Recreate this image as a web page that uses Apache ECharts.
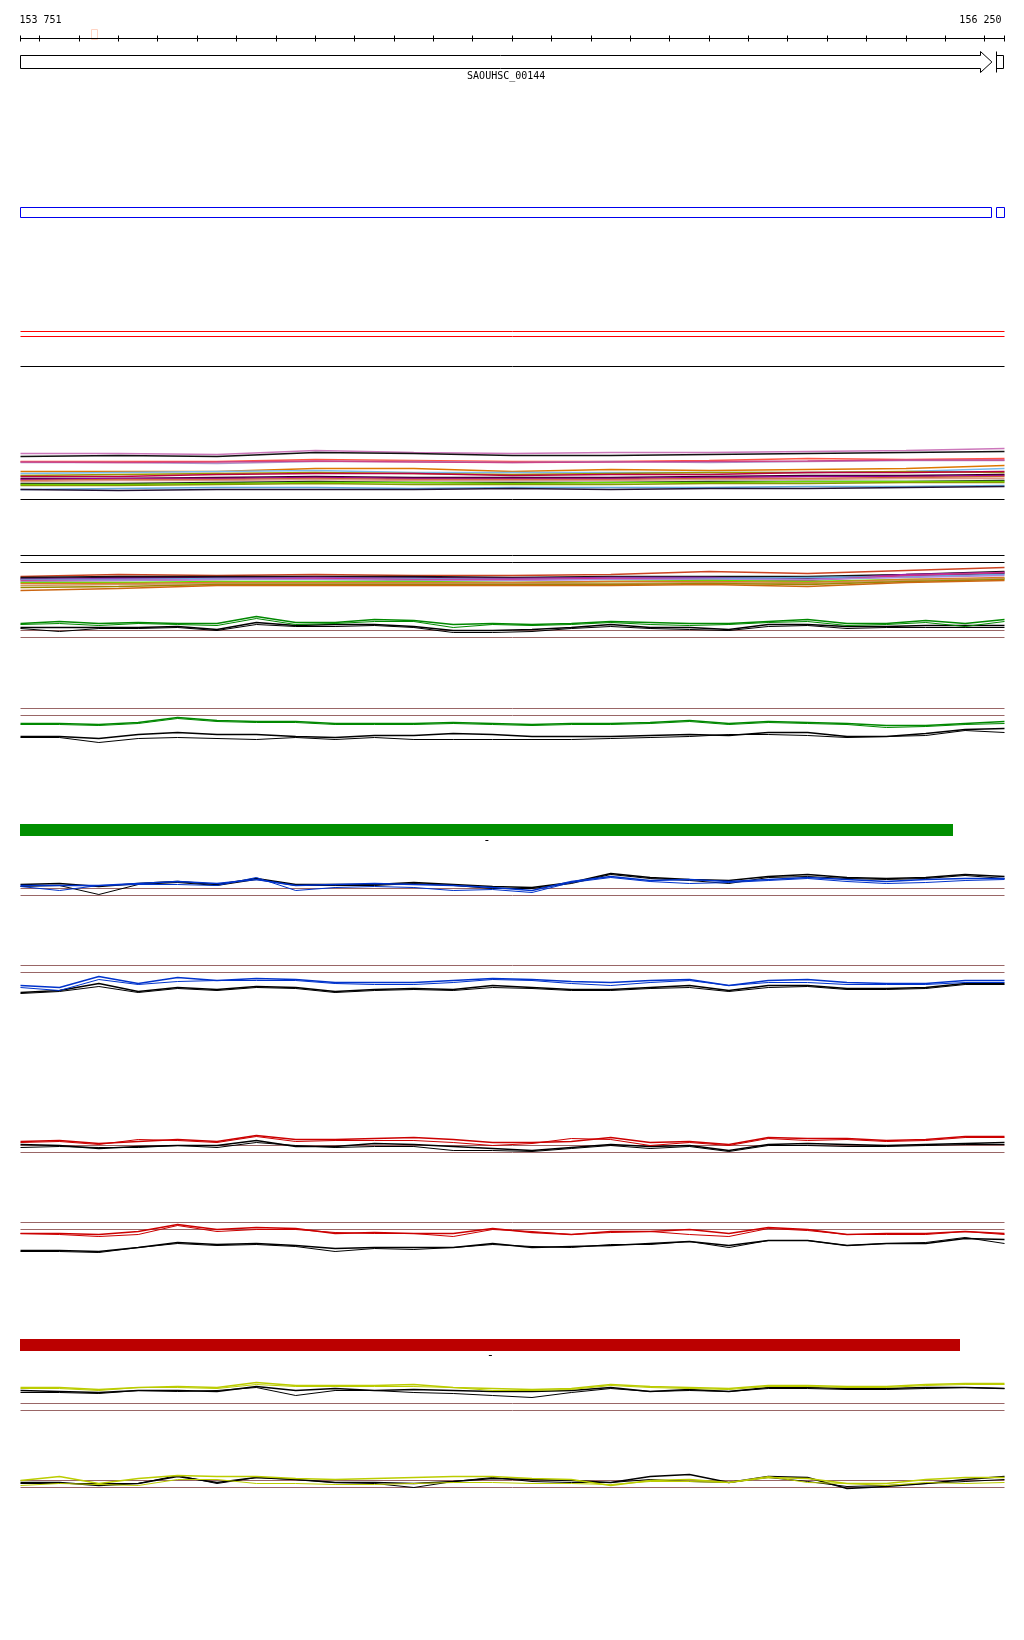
<!DOCTYPE html>
<html>
<head>
<meta charset="utf-8">
<script src="https://cdn.jsdelivr.net/npm/echarts@6/dist/echarts.min.js"></script>
<style>
  html, body { margin: 0; padding: 0; background: #fff; }
  #chart { width: 1024px; height: 1640px; }
</style>
</head>
<body>
<div id="chart"></div>
<script>
// window shown (bp)
const startPos = 153751;
const endPos = 156250;
const rulerLabels = ['153 751', '156 250'];
const rulerTicks = [153751, 153800, 153900, 154000, 154100, 154200, 154300, 154400, 154500, 154600,
  154700, 154800, 154900, 155000, 155100, 155200, 155300, 155400, 155500, 155600,
  155700, 155800, 155900, 156000, 156100, 156200, 156250];
const markerRange = [153929, 153944];

// features
const geneName = 'SAOUHSC_00144';
const gene = [153751, 156218];
const nextGene = [156229, 156250];
const cdsBlocks = [[153751, 156218], [156229, 156250]];
const hitRed = [3.85, 3.35];
const hitBlack = [0.35];
const greenBar = [153751, 156120];
const redBar = [153751, 156138];

// sample positions
const pos = [153751, 153850, 153950, 154050, 154150, 154250, 154350, 154450, 154550, 154650,
  154750, 154850, 154950, 155050, 155150, 155250, 155350, 155450, 155550, 155650,
  155750, 155850, 155950, 156050, 156150, 156250];
const posCoarse = [153751, 154000, 154250, 154500, 154750, 155000, 155250, 155500, 155750, 156000, 156250];

// multi-colour track 1
const m1Colors = ['#cc77bb', '#111111', '#ff5544', '#aa99cc', '#cc4488', '#dd7700', '#77bbee', '#999900', '#bb0044',
  '#330022', '#990099', '#cc6633', '#dd9988', '#222222', '#66dd00', '#889900', '#66aadd', '#221133'];
const m1Values = [
  [4.6, 4.6, 4.5, 4.9, 4.7, 4.6, 4.7, 4.7, 4.8, 4.9, 5.1],
  [4.3, 4.4, 4.3, 4.7, 4.6, 4.4, 4.4, 4.5, 4.6, 4.7, 4.8],
  [3.8, 3.8, 3.8, 4.0, 3.9, 3.8, 3.8, 3.9, 4.1, 4.0, 4.1],
  [3.7, 3.7, 3.6, 3.8, 3.8, 3.7, 3.8, 3.7, 3.8, 3.9, 3.9],
  [3.75, 3.7, 3.75, 3.85, 3.75, 3.7, 3.75, 3.8, 3.85, 3.95, 3.95],
  [2.8, 2.8, 2.8, 3.1, 3.1, 2.8, 3.0, 2.9, 3.0, 3.1, 3.4],
  [2.6, 2.7, 2.8, 2.9, 2.7, 2.7, 2.7, 2.7, 2.7, 2.8, 3.1],
  [2.4, 2.5, 2.6, 2.7, 2.6, 2.5, 2.6, 2.7, 2.7, 2.8, 2.7],
  [2.3, 2.3, 2.5, 2.6, 2.6, 2.4, 2.5, 2.5, 2.7, 2.7, 2.8],
  [2.1, 2.1, 2.2, 2.3, 2.2, 2.2, 2.2, 2.3, 2.4, 2.4, 2.5],
  [2.0, 2.1, 2.1, 2.2, 2.1, 2.1, 2.1, 2.2, 2.3, 2.3, 2.4],
  [1.9, 2.0, 2.0, 2.1, 2.0, 2.0, 2.0, 2.1, 2.1, 2.2, 2.3],
  [1.8, 1.9, 1.9, 2.0, 1.9, 1.9, 1.9, 2.0, 2.0, 2.1, 2.1],
  [1.6, 1.6, 1.7, 1.8, 1.7, 1.7, 1.7, 1.8, 1.8, 1.8, 1.9],
  [1.5, 1.5, 1.6, 1.7, 1.7, 1.6, 1.7, 1.7, 1.8, 1.8, 1.8],
  [1.4, 1.4, 1.5, 1.6, 1.5, 1.5, 1.5, 1.6, 1.6, 1.7, 1.7],
  [1.0, 1.1, 1.2, 1.2, 1.1, 1.2, 1.2, 1.2, 1.3, 1.3, 1.4],
  [1.0, 0.9, 1.0, 1.0, 1.0, 1.1, 1.0, 1.1, 1.1, 1.2, 1.3]
];

// multi-colour track 2
const m2Frame = [4.5, 3.8];
const m2Colors = ['#cc4422', '#111111', '#330033', '#9922aa', '#66aadd', '#cc3388', '#aa88dd', '#55ee00',
  '#dd7722', '#cc9966', '#998800', '#cc6611'];
const m2Values = [
  [2.4, 2.6, 2.5, 2.6, 2.5, 2.5, 2.6, 2.9, 2.7, 3.0, 3.3],
  [2.3, 2.4, 2.4, 2.4, 2.4, 2.3, 2.4, 2.4, 2.4, 2.6, 2.9],
  [2.2, 2.3, 2.3, 2.3, 2.3, 2.2, 2.3, 2.3, 2.2, 2.5, 2.7],
  [2.1, 2.2, 2.2, 2.3, 2.2, 2.2, 2.3, 2.3, 2.1, 2.6, 2.8],
  [2.1, 2.1, 2.2, 2.2, 2.2, 2.1, 2.2, 2.2, 2.3, 2.4, 2.6],
  [2.0, 2.0, 2.1, 2.2, 2.1, 2.1, 2.2, 2.1, 2.0, 2.5, 2.8],
  [1.9, 2.0, 2.1, 2.1, 2.0, 2.0, 2.1, 2.1, 2.1, 2.3, 2.5],
  [1.8, 1.8, 1.9, 1.9, 1.9, 1.8, 1.9, 2.0, 1.9, 2.1, 2.2],
  [1.7, 1.7, 1.8, 1.8, 1.8, 1.8, 1.9, 1.9, 1.8, 2.1, 2.3],
  [1.5, 1.6, 1.7, 1.7, 1.7, 1.7, 1.7, 1.8, 1.7, 2.0, 2.2],
  [1.3, 1.4, 1.6, 1.6, 1.6, 1.6, 1.6, 1.7, 1.6, 1.9, 2.1],
  [1.0, 1.2, 1.5, 1.5, 1.5, 1.5, 1.5, 1.6, 1.4, 1.8, 2.0]
];

// green tracks
const g1Cut = [1.0, 0.3];
const g1Green1 = [1.7, 1.9, 1.7, 1.8, 1.7, 1.7, 2.4, 1.8, 1.8, 2.1, 2.0, 1.6, 1.7, 1.6, 1.7, 1.9, 1.8, 1.7, 1.7, 1.9, 2.1, 1.7, 1.7, 2.0, 1.7, 2.1];
const g1Green2 = [1.6, 1.7, 1.5, 1.7, 1.6, 1.5, 2.2, 1.6, 1.7, 1.9, 1.9, 1.3, 1.6, 1.5, 1.6, 1.8, 1.6, 1.5, 1.6, 1.8, 1.9, 1.5, 1.6, 1.8, 1.4, 1.9];
const g1Black1 = [1.3, 1.3, 1.3, 1.3, 1.4, 1.1, 1.8, 1.5, 1.6, 1.6, 1.4, 1.0, 1.0, 1.1, 1.3, 1.6, 1.3, 1.3, 1.1, 1.6, 1.6, 1.4, 1.4, 1.5, 1.5, 1.5];
const g1Black2 = [1.2, 0.9, 1.2, 1.2, 1.3, 1.0, 1.6, 1.4, 1.4, 1.5, 1.3, 0.8, 0.8, 0.9, 1.2, 1.4, 1.2, 1.1, 1.0, 1.4, 1.5, 1.2, 1.3, 1.3, 1.3, 1.3];

const g2Cut = [3.7, 3.0];
const g2Green1 = [2.2, 2.2, 2.1, 2.3, 2.8, 2.5, 2.4, 2.4, 2.2, 2.2, 2.2, 2.3, 2.2, 2.1, 2.2, 2.2, 2.3, 2.5, 2.2, 2.4, 2.3, 2.2, 2.0, 2.0, 2.2, 2.4];
const g2Green2 = [2.1, 2.1, 2.0, 2.2, 2.7, 2.4, 2.3, 2.3, 2.1, 2.1, 2.1, 2.2, 2.1, 2.0, 2.1, 2.1, 2.2, 2.4, 2.1, 2.3, 2.2, 2.1, 1.8, 1.9, 2.1, 2.2];
const g2Black1 = [0.9, 0.9, 0.7, 1.1, 1.3, 1.1, 1.1, 0.9, 0.8, 1.0, 1.0, 1.2, 1.1, 0.9, 0.9, 0.9, 1.0, 1.1, 1.0, 1.3, 1.3, 0.9, 0.9, 1.2, 1.6, 1.7];
const g2Black2 = [0.8, 0.8, 0.3, 0.7, 0.8, 0.7, 0.6, 0.8, 0.6, 0.8, 0.6, 0.6, 0.6, 0.6, 0.6, 0.7, 0.8, 0.9, 1.1, 1.1, 1.0, 0.8, 0.9, 1.0, 1.5, 1.3];

// blue tracks
const b1Cut = [1.2, 0.5];
const b1Blue1 = [1.5, 1.5, 1.5, 1.7, 1.9, 1.7, 2.1, 1.5, 1.6, 1.7, 1.6, 1.5, 1.3, 1.0, 1.9, 2.4, 2.0, 2.1, 1.9, 2.1, 2.3, 2.1, 1.9, 2.1, 2.2, 2.2];
const b1Blue2 = [1.4, 1.0, 1.5, 1.6, 1.6, 1.5, 2.3, 1.0, 1.3, 1.4, 1.3, 1.0, 1.1, 0.8, 1.8, 2.3, 1.9, 1.7, 1.8, 2.0, 2.2, 1.9, 1.7, 1.8, 2.0, 2.1];
const b1Black1 = [1.6, 1.7, 1.4, 1.7, 1.9, 1.6, 2.2, 1.6, 1.6, 1.6, 1.8, 1.6, 1.4, 1.3, 1.8, 2.7, 2.3, 2.1, 2.0, 2.4, 2.6, 2.3, 2.2, 2.3, 2.6, 2.4];
const b1Black2 = [1.4, 1.5, 0.6, 1.6, 1.8, 1.5, 2.1, 1.5, 1.5, 1.5, 1.7, 1.5, 1.2, 1.2, 1.7, 2.6, 2.2, 2.0, 1.7, 2.3, 2.4, 2.2, 2.1, 2.2, 2.5, 2.2];

const b2Cut = [3.5, 2.8];
const b2Blue1 = [1.5, 1.3, 2.4, 1.7, 2.3, 2.0, 2.2, 2.1, 1.8, 1.8, 1.8, 2.0, 2.2, 2.1, 1.9, 1.8, 2.0, 2.1, 1.5, 2.0, 2.1, 1.8, 1.7, 1.7, 2.0, 2.0];
const b2Blue2 = [1.3, 1.0, 2.1, 1.6, 1.9, 2.0, 2.0, 2.0, 1.7, 1.6, 1.6, 1.8, 2.1, 2.0, 1.7, 1.5, 1.8, 2.0, 1.5, 1.8, 1.8, 1.6, 1.6, 1.6, 1.8, 1.8];
const b2Black1 = [0.8, 1.0, 1.7, 0.9, 1.3, 1.1, 1.4, 1.3, 0.9, 1.1, 1.2, 1.1, 1.5, 1.3, 1.1, 1.1, 1.3, 1.5, 1.0, 1.5, 1.5, 1.2, 1.2, 1.3, 1.7, 1.7];
const b2Black2 = [0.7, 0.9, 1.4, 0.8, 1.2, 1.0, 1.3, 1.2, 0.8, 1.0, 1.1, 1.0, 1.3, 1.2, 1.0, 1.0, 1.2, 1.3, 0.9, 1.3, 1.4, 1.1, 1.1, 1.2, 1.6, 1.6];

// red tracks
const r1Cut = [1.5, 0.8];
const r1Red1 = [1.9, 2.0, 1.7, 1.9, 2.1, 1.9, 2.5, 2.1, 2.1, 2.2, 2.3, 2.1, 1.8, 1.8, 1.9, 2.3, 1.8, 1.9, 1.6, 2.3, 2.2, 2.2, 2.0, 2.1, 2.4, 2.4];
const r1Red2 = [1.8, 1.9, 1.6, 2.1, 2.0, 1.8, 2.4, 1.9, 2.0, 2.0, 2.0, 1.8, 1.5, 1.7, 2.2, 2.1, 1.5, 1.8, 1.5, 2.2, 2.0, 2.1, 1.9, 2.0, 2.3, 2.3];
const r1Black1 = [1.6, 1.5, 1.2, 1.4, 1.5, 1.5, 2.0, 1.4, 1.4, 1.7, 1.6, 1.4, 1.2, 1.0, 1.3, 1.6, 1.4, 1.5, 1.0, 1.6, 1.7, 1.6, 1.5, 1.6, 1.7, 1.8];
const r1Black2 = [1.3, 1.4, 1.3, 1.3, 1.5, 1.3, 1.8, 1.5, 1.3, 1.4, 1.4, 1.0, 1.0, 0.9, 1.2, 1.5, 1.2, 1.4, 0.9, 1.5, 1.5, 1.4, 1.4, 1.5, 1.6, 1.6];

const r2Cut = [3.8, 3.1];
const r2Red1 = [2.7, 2.7, 2.6, 2.9, 3.6, 3.1, 3.3, 3.2, 2.7, 2.8, 2.7, 2.7, 3.2, 2.8, 2.6, 2.9, 2.9, 3.1, 2.7, 3.3, 3.1, 2.6, 2.7, 2.7, 2.9, 2.7];
const r2Red2 = [2.7, 2.6, 2.4, 2.6, 3.5, 2.9, 3.1, 3.1, 2.8, 2.7, 2.7, 2.4, 3.1, 2.9, 2.6, 2.8, 2.9, 2.6, 2.4, 3.2, 3.0, 2.6, 2.6, 2.6, 2.9, 2.6];
const r2Black1 = [1.0, 1.0, 0.9, 1.3, 1.8, 1.6, 1.7, 1.5, 1.2, 1.3, 1.3, 1.3, 1.7, 1.3, 1.4, 1.5, 1.7, 1.9, 1.5, 2.0, 2.0, 1.5, 1.7, 1.7, 2.2, 2.1];
const r2Black2 = [0.9, 0.9, 0.8, 1.3, 1.7, 1.5, 1.6, 1.4, 0.9, 1.2, 1.1, 1.3, 1.6, 1.4, 1.3, 1.6, 1.6, 1.9, 1.3, 2.0, 2.0, 1.5, 1.7, 1.8, 2.3, 1.7];

// yellow tracks
const y1Cut = [1.7, 1.0];
const y1Yel1 = [3.3, 3.3, 3.1, 3.3, 3.4, 3.3, 3.8, 3.5, 3.5, 3.5, 3.6, 3.3, 3.2, 3.1, 3.2, 3.6, 3.4, 3.3, 3.2, 3.5, 3.5, 3.4, 3.4, 3.6, 3.7, 3.7];
const y1Yel2 = [3.2, 3.2, 3.0, 3.3, 3.3, 3.2, 3.6, 3.4, 3.4, 3.4, 3.4, 3.3, 3.0, 3.0, 3.1, 3.5, 3.3, 3.2, 3.1, 3.4, 3.4, 3.3, 3.3, 3.5, 3.6, 3.6];
const y1Black1 = [3.0, 2.9, 2.8, 3.0, 3.0, 2.9, 3.4, 3.0, 3.2, 3.0, 3.1, 3.0, 2.9, 2.9, 3.0, 3.3, 2.9, 3.1, 2.9, 3.3, 3.3, 3.2, 3.2, 3.3, 3.3, 3.2];
const y1Black2 = [2.8, 2.8, 2.7, 3.0, 2.9, 3.0, 3.3, 2.5, 3.0, 3.0, 2.8, 2.7, 2.5, 2.3, 2.8, 3.2, 2.9, 3.0, 2.9, 3.2, 3.2, 3.1, 3.1, 3.2, 3.3, 3.2];

const y2Cut = [2.0, 1.3];
const y2Yel1 = [2.0, 2.4, 1.7, 2.2, 2.5, 2.4, 2.4, 2.2, 2.1, 2.2, 2.3, 2.4, 2.4, 2.2, 2.1, 1.5, 2.0, 2.1, 1.8, 2.3, 2.2, 1.7, 1.7, 2.1, 2.3, 2.3];
const y2Yel2 = [1.5, 1.7, 1.6, 1.5, 2.1, 2.1, 1.7, 1.7, 1.6, 1.6, 1.7, 1.8, 1.8, 1.7, 1.7, 1.6, 1.9, 1.9, 1.8, 2.4, 1.8, 1.7, 1.5, 1.8, 1.7, 1.8];
const y2Black1 = [1.8, 1.8, 1.5, 1.7, 2.4, 1.8, 2.3, 2.1, 1.8, 1.8, 1.7, 1.9, 2.2, 2.1, 2.0, 1.8, 2.4, 2.6, 1.8, 2.4, 2.3, 1.2, 1.4, 1.7, 2.1, 2.4];
const y2Black2 = [1.7, 1.7, 1.7, 1.7, 2.5, 1.7, 2.3, 2.1, 1.8, 1.7, 1.3, 1.9, 2.3, 1.9, 1.8, 1.8, 2.1, 1.9, 1.8, 2.3, 1.9, 1.4, 1.5, 1.7, 1.9, 2.1];

const CUT = '#996666';
const GREEN = '#008800';
const BLUE = '#0033cc';
const RED = '#cc0000';
const YELLOW = '#bbcc00';
const mono = '10px "DejaVu Sans Mono", monospace';

const grids = [], xAxes = [], yAxes = [], series = [];

function addTrack(top, height, min, max) {
  const i = grids.length;
  grids.push({ left: 20.5, right: 19.5, top: top, height: height });
  xAxes.push({ type: 'value', gridIndex: i, min: startPos, max: endPos, show: false });
  yAxes.push({ type: 'value', gridIndex: i, min: min, max: max, show: false });
  return i;
}

function line(idx, data, color, width) {
  series.push({
    type: 'line', xAxisIndex: idx, yAxisIndex: idx, data: data,
    symbol: 'none', showSymbol: false, clip: false, silent: true, animation: false,
    lineStyle: { color: color, width: width || 1 }
  });
}
function flat(idx, v, color) { line(idx, [[startPos, v], [endPos, v]], color, 1); }
function wig(idx, xs, vals, color, width) { line(idx, xs.map((x, i) => [x, vals[i]]), color, width); }

function feature(idx, data, render) {
  series.push({
    type: 'custom', xAxisIndex: idx, yAxisIndex: idx, data: data, renderItem: render,
    encode: { x: [0, 1], y: 2 }, silent: true, animation: false, clip: false
  });
}
function txt(x, y, s, align, font) {
  return { type: 'text', x: x, y: y, style: {
    text: s, fill: '#000', font: font || mono,
    textAlign: align, align: align, textVerticalAlign: 'middle', verticalAlign: 'middle' } };
}

// ruler
const gR = addTrack(28.5, 20, -1, 1);
flat(gR, 0, '#000');
feature(gR, rulerTicks.map(t => [t, t, 0]), (p, api) => {
  const c = api.coord([api.value(0), 0]);
  const x = Math.round(c[0] - 0.5) + 0.5;
  return { type: 'line', shape: { x1: x, y1: c[1] - 3, x2: x, y2: c[1] + 3 }, style: { stroke: '#000', lineWidth: 1 } };
});
feature(gR, [[startPos, startPos, 0], [endPos, endPos, 0]], (p, api) => {
  const c = api.coord([api.value(0), 0]);
  return p.dataIndex === 0
    ? txt(c[0] - 1, c[1] - 18.5, rulerLabels[0], 'left')
    : txt(c[0] - 3, c[1] - 18.5, rulerLabels[1], 'right');
});
feature(gR, [[markerRange[0], markerRange[1], 0]], (p, api) => {
  const a = api.coord([api.value(0), 0]), b = api.coord([api.value(1), 0]);
  return { type: 'rect', shape: { x: Math.round(a[0]) + 0.5, y: a[1] - 9, width: Math.round(b[0] - a[0]), height: 10 },
    style: { fill: 'none', stroke: '#ffd4c4', lineWidth: 1 } };
});

// gene
const gG = addTrack(52, 20, -1, 1);
feature(gG, [[gene[0], gene[1], 0]], (p, api) => {
  const a = api.coord([api.value(0), 0]), b = api.coord([api.value(1), 0]);
  const cy = a[1], hb = Math.round(b[0] - 12) + 0.5;
  return { type: 'group', children: [
    { type: 'polygon', shape: { points: [[a[0], cy - 6.5], [hb, cy - 6.5], [hb, cy - 10.5], [b[0], cy],
      [hb, cy + 10.5], [hb, cy + 6.5], [a[0], cy + 6.5]] },
      style: { fill: '#fff', stroke: '#000', lineWidth: 1 } },
    txt((a[0] + b[0]) / 2, cy + 14.5, geneName, 'center')
  ] };
});
feature(gG, [[nextGene[0], nextGene[1], 0]], (p, api) => {
  const a = api.coord([api.value(0), 0]), b = api.coord([api.value(1), 0]);
  const cy = a[1], x0 = Math.round(a[0]) + 0.5;
  return { type: 'group', children: [
    { type: 'rect', shape: { x: x0, y: cy - 6.5, width: b[0] - x0 - 1, height: 13 }, style: { fill: '#fff', stroke: '#000', lineWidth: 1 } },
    { type: 'line', shape: { x1: x0, y1: cy - 10.5, x2: x0, y2: cy + 10.5 }, style: { stroke: '#000', lineWidth: 1 } }
  ] };
});

// CDS boxes
const gB = addTrack(202.5, 20, -1, 1);
feature(gB, cdsBlocks.map(d => [d[0], d[1], 0]), (p, api) => {
  const a = api.coord([api.value(0), 0]), b = api.coord([api.value(1), 0]);
  const x0 = Math.round(a[0] - 0.5) + 0.5, x1 = Math.round(b[0] - 0.5) + 0.5;
  return { type: 'rect', shape: { x: x0, y: a[1] - 5, width: x1 - x0, height: 10 },
    style: { fill: 'none', stroke: '#0000ee', lineWidth: 1 } };
});

// hit lines
const gH = addTrack(320, 50, 0, 5);
hitRed.forEach(v => flat(gH, v, '#ff0000'));
hitBlack.forEach(v => flat(gH, v, '#000'));

// multi-colour 1
const gM1 = addTrack(439.5, 60, 0, 6);
m1Values.forEach((vals, i) => wig(gM1, posCoarse, vals, m1Colors[i], 1.4));
flat(gM1, 0, '#000');

// multi-colour 2
const gM2 = addTrack(550.5, 50, 0, 5);
m2Frame.forEach(v => flat(gM2, v, '#000'));
m2Values.forEach((vals, i) => wig(gM2, posCoarse, vals, m2Colors[i], 1.4));

function wiggleTrack(bottom, cut, c1, c2, k1, k2, color) {
  const idx = addTrack(bottom - 39.5, 40, 0, 4);
  cut.forEach(v => flat(idx, v, CUT));
  wig(idx, pos, k2, '#000', 1);
  wig(idx, pos, k1, '#000', 1.3);
  wig(idx, pos, c2, color, 1);
  wig(idx, pos, c1, color, 1.3);
  return idx;
}

wiggleTrack(640, g1Cut, g1Green1, g1Green2, g1Black1, g1Black2, GREEN);
wiggleTrack(745, g2Cut, g2Green1, g2Green2, g2Black1, g2Black2, GREEN);

function barTrack(center, range, color) {
  const idx = addTrack(center - 10, 20, -1, 1);
  feature(idx, [[range[0], range[1], 0]], (p, api) => {
    const a = api.coord([api.value(0), 0]), b = api.coord([api.value(1), 0]);
    return { type: 'group', children: [
      { type: 'rect', shape: { x: Math.round(a[0] - 0.5), y: a[1] - 6, width: Math.round(b[0] - a[0]), height: 12 }, style: { fill: color } },
      txt((a[0] + b[0]) / 2, a[1] + 11, '-', 'center', '12px "DejaVu Sans Mono", monospace')
    ] };
  });
}

barTrack(830, greenBar, '#008f00');
wiggleTrack(900, b1Cut, b1Blue1, b1Blue2, b1Black1, b1Black2, BLUE);
wiggleTrack(1000, b2Cut, b2Blue1, b2Blue2, b2Black1, b2Black2, BLUE);
wiggleTrack(1160, r1Cut, r1Red1, r1Red2, r1Black1, r1Black2, RED);
wiggleTrack(1260, r2Cut, r2Red1, r2Red2, r2Black1, r2Black2, RED);
barTrack(1345, redBar, '#bb0000');
wiggleTrack(1420, y1Cut, y1Yel1, y1Yel2, y1Black1, y1Black2, YELLOW);
wiggleTrack(1500, y2Cut, y2Yel1, y2Yel2, y2Black1, y2Black2, YELLOW);

const chart = echarts.init(document.getElementById('chart'));
chart.setOption({
  animation: false,
  backgroundColor: '#fff',
  grid: grids,
  xAxis: xAxes,
  yAxis: yAxes,
  series: series
});
window.addEventListener('resize', function () {
  chart.resize();
});
</script>
</body>
</html>
